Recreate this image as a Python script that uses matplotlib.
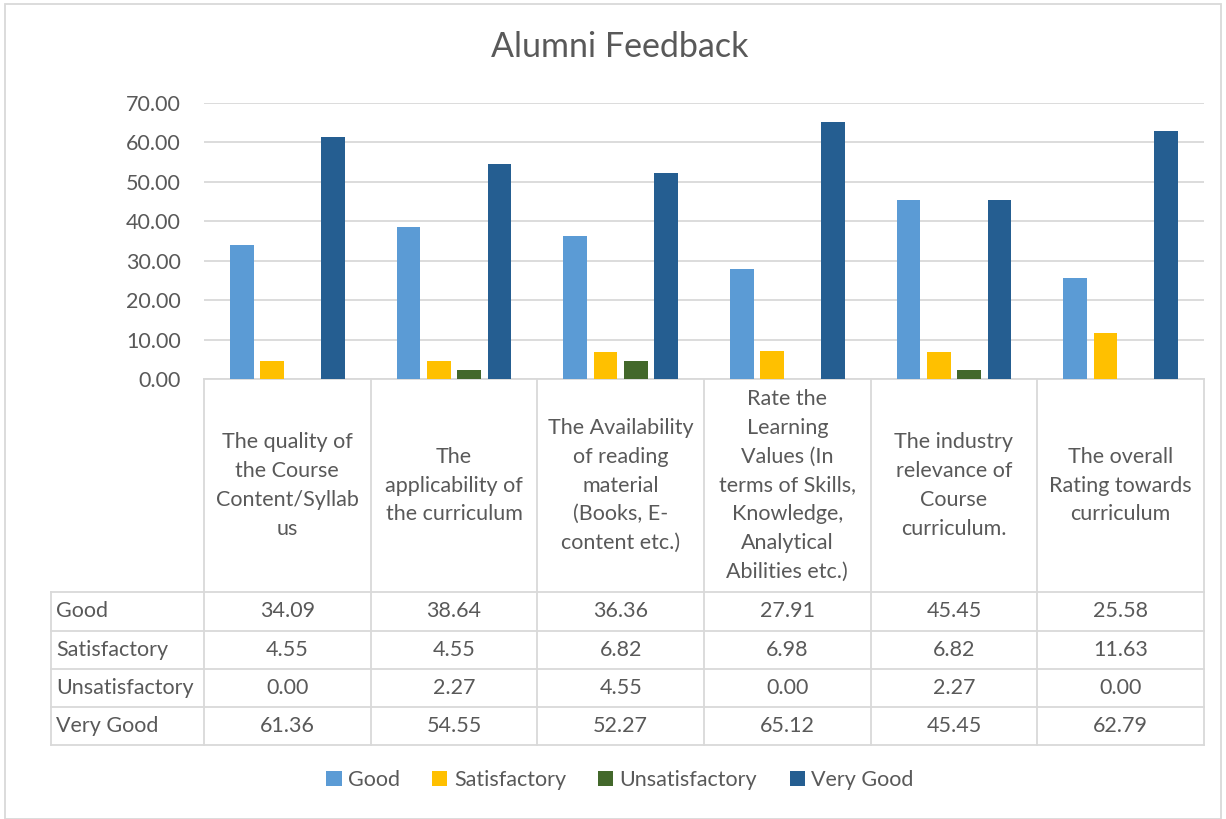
import numpy as np
import matplotlib.pyplot as plt
from matplotlib.patches import Rectangle
from matplotlib.transforms import blended_transform_factory

plt.rcParams['font.family'] = ['Lato', 'DejaVu Sans']

# data
categories = [
    "The quality of\nthe Course\nContent/Syllab\nus",
    "The\napplicability of\nthe curriculum",
    "The Availability\nof reading\nmaterial\n(Books, E-\ncontent etc.)",
    "Rate the\nLearning\nValues (In\nterms of Skills,\nKnowledge,\nAnalytical\nAbilities etc.)",
    "The industry\nrelevance of\nCourse\ncurriculum.",
    "The overall\nRating towards\ncurriculum",
]
series_names = ['Good', 'Satisfactory', 'Unsatisfactory', 'Very Good']
good = [34.09, 38.64, 36.36, 27.91, 45.45, 25.58]
satisfactory = [4.55, 4.55, 6.82, 6.98, 6.82, 11.63]
unsatisfactory = [0.00, 2.27, 4.55, 0.00, 2.27, 0.00]
very_good = [61.36, 54.55, 52.27, 65.12, 45.45, 62.79]
yticks = [0, 10, 20, 30, 40, 50, 60, 70]

series = [good, satisfactory, unsatisfactory, very_good]
colors = ['#5B9BD5', '#FFC000', '#43682B', '#255E91']
txt = '#595959'
grid = '#D9D9D9'
fs = 15.5

W, H = 1226, 819
fig = plt.figure(figsize=(W / 100, H / 100), dpi=100)

# plot area in pixels: x 204..1204, y 103 (70) .. 379 (0)
ax_l, ax_r, ax_t, ax_b = 204, 1204, 103, 379
ax = fig.add_axes([ax_l / W, 1 - ax_b / H, (ax_r - ax_l) / W, (ax_b - ax_t) / H])

x = np.arange(len(categories))
pitch = 0.182
width = 0.142
for i, (name, vals) in enumerate(zip(series_names, series)):
    ax.bar(x + (i - 1.5) * pitch, vals, width, color=colors[i], label=name, zorder=3)

ax.set_xlim(-0.5, len(categories) - 0.5)
ax.set_ylim(0, 70)
ax.set_yticks(yticks)
ax.set_yticklabels([f"{v:.2f}" for v in yticks], color=txt, fontsize=fs)
ax.tick_params(axis='y', length=0, pad=16.5)
ax.set_xticks([])
ax.yaxis.grid(True, color=grid, linewidth=1.3, zorder=0)
for s in ax.spines.values():
    s.set_visible(False)

# data table below the axes
def fy(py):
    return (ax_b - py) / (ax_b - ax_t)

tr = blended_transform_factory(ax.transData, ax.transAxes)
left_x = -0.5 - (ax_l - 51) / ((ax_r - ax_l) / len(categories))
row_y = [fy(p) for p in [592, 630.5, 668.8, 707, 745.3]]
head_top = 0.0
lc = '#D9D9D9'
lw = 1.3

# horizontal lines
ax.plot([-0.5, len(categories) - 0.5], [head_top, head_top], color=lc, lw=lw,
        transform=tr, clip_on=False, zorder=2)
for y in row_y:
    ax.plot([left_x, len(categories) - 0.5], [y, y], color=lc, lw=lw,
            transform=tr, clip_on=False)
# vertical lines
for k in range(len(categories) + 1):
    ax.plot([k - 0.5, k - 0.5], [head_top, row_y[-1]], color=lc, lw=lw,
            transform=tr, clip_on=False)
ax.plot([left_x, left_x], [row_y[0], row_y[-1]], color=lc, lw=lw,
        transform=tr, clip_on=False)

# header text
for k, cat in enumerate(categories):
    ax.text(k, (head_top + row_y[0]) / 2, cat, transform=tr, ha='center', va='center',
            color=txt, fontsize=fs, linespacing=1.55, clip_on=False)

# rows
for r, (name, vals) in enumerate(zip(series_names, series)):
    yc = (row_y[r] + row_y[r + 1]) / 2
    ax.text(left_x + 0.03, yc, name, transform=tr, ha='left', va='center',
            color=txt, fontsize=fs, clip_on=False)
    for k, v in enumerate(vals):
        ax.text(k, yc, f"{v:.2f}", transform=tr, ha='center', va='center',
                color=txt, fontsize=fs, clip_on=False)

fig.text(620 / W, 1 - 47 / H, "Alumni Feedback", ha='center', va='center',
         color=txt, fontsize=24.5)

leg = fig.legend(loc='center', bbox_to_anchor=(620 / W, 1 - 780 / H), ncol=4,
                 frameon=False, fontsize=fs, handlelength=0.7, handleheight=0.7,
                 handletextpad=0.3, columnspacing=1.5)
for t in leg.get_texts():
    t.set_color(txt)

# chart border
fig.patches.append(Rectangle((5 / W, 0), (W - 10) / W, 1 - 4 / H, transform=fig.transFigure,
                             fill=False, edgecolor='#D9D9D9', linewidth=1.3))

fig.savefig('out.png', dpi=100)
